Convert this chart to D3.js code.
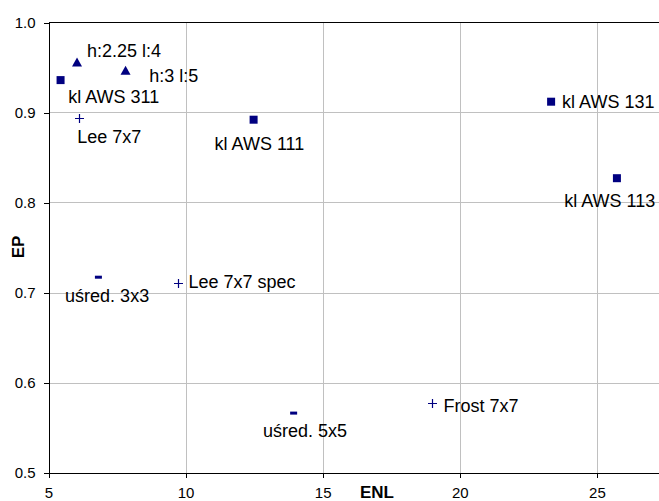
<!DOCTYPE html>
<html>
<head>
<meta charset="utf-8">
<script src="https://cdn.jsdelivr.net/npm/d3@7"></script>
<style>
  body { margin: 0; background: #fff; }
  svg { display: block; font-family: "Liberation Sans", Arial, sans-serif; }
  .grid line { stroke: #c0c0c0; shape-rendering: crispEdges; }
  .axis path, .axis line { stroke: #000; shape-rendering: crispEdges; }
  .axis text { font-size: 15px; fill: #000; }
  .lbl { font-size: 18px; fill: #000; }
  .title { font-size: 17px; font-weight: bold; fill: #000; }
</style>
</head>
<body>
<script>
// series: kl AWS (squares)
var awsNames = ["kl AWS 311", "kl AWS 111", "kl AWS 131", "kl AWS 113"];
var awsENL   = [5.44, 12.48, 23.33, 25.73];
var awsEP    = [0.936, 0.892, 0.912, 0.827];

// series: h/l parameters (triangles)
var hlNames = ["h:2.25 l:4", "h:3 l:5"];
var hlENL   = [6.04, 7.81];
var hlEP    = [0.956, 0.947];

// series: Lee / Frost (plus)
var filtNames = ["Lee 7x7", "Lee 7x7 spec", "Frost 7x7"];
var filtENL   = [6.11, 9.72, 18.98];
var filtEP    = [0.894, 0.711, 0.577];

// series: averaging (dash)
var avgNames = ["uśred. 3x3", "uśred. 5x5"];
var avgENL   = [6.82, 13.94];
var avgEP    = [0.717, 0.566];

var xTicks = [5, 10, 15, 20, 25];
var yTicks = [0.5, 0.6, 0.7, 0.8, 0.9, 1.0];

// label placement relative to marker
var awsOff  = [[7.7, 22.7], [-39, 30.7], [11, 6.5], [-52.7, 28.7]];
var hlOff   = [[10, -4.7], [23.7, 11.7]];
var filtOff = [[-1.7, 24.7], [10.6, 5.7], [11.6, 8.4]];
var avgOff  = [[-33.3, 25], [-30.6, 24]];

var W = 659, H = 501;
var x0 = 48.5, y0 = 22.5, yBottom = 472.5;
var pxPerUnit = 27.42;

var svg = d3.select("body").append("svg")
    .attr("width", W)
    .attr("height", H);

// plot area runs on past the right edge of the picture
var x = d3.scaleLinear().domain([5, 30]).range([x0, x0 + 25 * pxPerUnit]);
var y = d3.scaleLinear().domain([0.5, 1.0]).range([yBottom, y0]);

var navy = "#000080";

// gridlines
svg.append("g").attr("class", "grid")
  .selectAll("line.v")
  .data(xTicks.slice(1))
  .enter().append("line")
    .attr("x1", function(d) { return Math.round(x(d)) + 0.5; })
    .attr("x2", function(d) { return Math.round(x(d)) + 0.5; })
    .attr("y1", y0).attr("y2", yBottom);

svg.append("g").attr("class", "grid")
  .selectAll("line.h")
  .data(yTicks.slice(1, -1))
  .enter().append("line")
    .attr("x1", x0).attr("x2", x(30))
    .attr("y1", function(d) { return Math.round(y(d)) + 0.5; })
    .attr("y2", function(d) { return Math.round(y(d)) + 0.5; });

// top border
svg.append("line")
    .attr("x1", x0).attr("x2", x(30))
    .attr("y1", y0).attr("y2", y0)
    .attr("stroke", "#000")
    .attr("shape-rendering", "crispEdges");

// axes
var xAxis = d3.axisBottom(x).tickValues(xTicks).tickSize(5).tickSizeOuter(0)
    .tickFormat(d3.format("d"));
var yAxis = d3.axisLeft(y).tickValues(yTicks).tickSize(5).tickSizeOuter(0)
    .tickFormat(d3.format(".1f"));

svg.append("g")
    .attr("class", "x axis")
    .attr("transform", "translate(0," + yBottom + ")")
    .call(xAxis)
    .selectAll("text")
    .attr("dy", null)
    .attr("y", 25.5);

svg.append("g")
    .attr("class", "y axis")
    .attr("transform", "translate(" + x0 + ",0)")
    .call(yAxis)
    .selectAll("text")
    .attr("x", -13)
    .attr("dy", "0.36em");

// axis titles
svg.append("text")
    .attr("class", "title")
    .attr("x", 377)
    .attr("y", 497.5)
    .style("text-anchor", "middle")
    .text("ENL");

svg.append("text")
    .attr("class", "title")
    .attr("transform", "translate(23.5,247) rotate(-90)")
    .style("text-anchor", "middle")
    .text("EP");

function zip(names, xs, ys, offs) {
  return names.map(function(n, i) {
    return { name: n, enl: xs[i], ep: ys[i], off: offs[i] };
  });
}

var aws = zip(awsNames, awsENL, awsEP, awsOff);
var hl = zip(hlNames, hlENL, hlEP, hlOff);
var filt = zip(filtNames, filtENL, filtEP, filtOff);
var avg = zip(avgNames, avgENL, avgEP, avgOff);

// squares
svg.selectAll(".sq")
    .data(aws)
    .enter().append("rect")
    .attr("class", "sq")
    .attr("x", function(d) { return x(d.enl) - 4; })
    .attr("y", function(d) { return y(d.ep) - 4; })
    .attr("width", 8)
    .attr("height", 8)
    .attr("fill", navy);

// triangles
svg.selectAll(".tri")
    .data(hl)
    .enter().append("path")
    .attr("class", "tri")
    .attr("d", function(d) {
      var cx = x(d.enl), cy = y(d.ep);
      return "M" + (cx - 5) + "," + (cy + 4.5) + "L" + cx + "," + (cy - 4.5) +
             "L" + (cx + 5) + "," + (cy + 4.5) + "Z";
    })
    .attr("fill", navy);

// plus
svg.selectAll(".plus")
    .data(filt)
    .enter().append("path")
    .attr("class", "plus")
    .attr("d", function(d) {
      var cx = Math.round(x(d.enl)) + 0.5, cy = Math.round(y(d.ep)) + 0.5;
      return "M" + (cx - 4.5) + "," + cy + "H" + (cx + 4.5) +
             "M" + cx + "," + (cy - 4.5) + "V" + (cy + 4.5);
    })
    .attr("stroke", navy)
    .attr("stroke-width", 1.2)
    .attr("fill", "none");

// dashes
svg.selectAll(".dash")
    .data(avg)
    .enter().append("rect")
    .attr("class", "dash")
    .attr("x", function(d) { return x(d.enl) - 3.5; })
    .attr("y", function(d) { return y(d.ep) - 1.5; })
    .attr("width", 7)
    .attr("height", 3)
    .attr("fill", navy);

// labels
svg.selectAll(".lbl")
    .data(aws.concat(hl, filt, avg))
    .enter().append("text")
    .attr("class", "lbl")
    .attr("x", function(d) { return x(d.enl) + d.off[0]; })
    .attr("y", function(d) { return y(d.ep) + d.off[1]; })
    .text(function(d) { return d.name; });
</script>
</body>
</html>
